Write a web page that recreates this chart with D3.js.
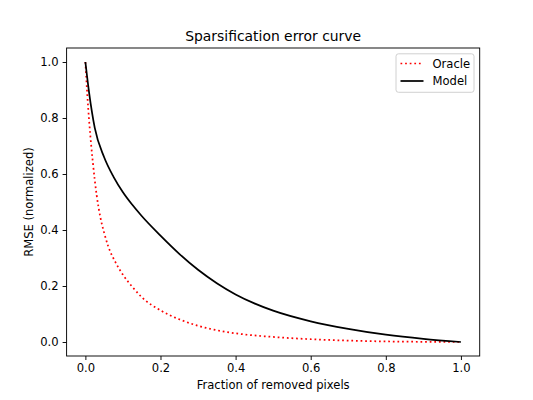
<!DOCTYPE html>
<html>
<head>
<meta charset="utf-8">
<script src="https://cdn.jsdelivr.net/npm/d3@7"></script>
<style>
  body { margin: 0; background: white; }
  text { font-family: "DejaVu Sans", sans-serif; fill: black; }
</style>
</head>
<body>
<div id="chart"></div>
<script>
// values
var oracle_x = [0, 0.005, 0.01, 0.02, 0.03, 0.04, 0.05, 0.06, 0.08, 0.1, 0.125, 0.15, 0.2, 0.25, 0.3, 0.35, 0.4, 0.5, 0.6, 0.7, 0.8, 0.9, 1.0];
var oracle_y = [1.0, 0.885, 0.79, 0.64, 0.525, 0.445, 0.39, 0.345, 0.285, 0.24, 0.197, 0.16, 0.113, 0.081, 0.058, 0.042, 0.031, 0.018, 0.01, 0.005, 0.002, 0.0007, 0.0];

var model_x = [0, 0.01, 0.025, 0.05, 0.075, 0.1, 0.125, 0.15, 0.2, 0.25, 0.3, 0.35, 0.4, 0.45, 0.5, 0.6, 0.7, 0.8, 0.9, 1.0];
var model_y = [1.0, 0.89, 0.765, 0.66, 0.59, 0.535, 0.49, 0.45, 0.38, 0.315, 0.258, 0.21, 0.17, 0.138, 0.112, 0.074, 0.047, 0.026, 0.011, 0.0];

var x_ticks = [0.0, 0.2, 0.4, 0.6, 0.8, 1.0];
var y_ticks = [0.0, 0.2, 0.4, 0.6, 0.8, 1.0];

var series_names = ["Oracle", "Model"];

var W = 533, H = 400;
// note: "top" is taken by window.top, so the plot box gets its own names
var ax_left = 66.6, ax_right = 479.7, ax_top = 48, ax_bottom = 356;
var fs = 11.57;

var svg = d3.select("#chart")
  .append("svg")
    .attr("width", W)
    .attr("height", H);

svg.append("rect")
  .attr("width", W)
  .attr("height", H)
  .attr("fill", "white");

var xs = d3.scaleLinear().domain([-0.05, 1.05]).range([ax_left, ax_right]);
var ys = d3.scaleLinear().domain([-0.05, 1.05]).range([ax_bottom, ax_top]);

// axes
var xAxis = d3.axisBottom(xs).tickValues(x_ticks).tickFormat(d3.format(".1f")).tickSize(4).tickPadding(4);
var yAxis = d3.axisLeft(ys).tickValues(y_ticks).tickFormat(d3.format(".1f")).tickSize(4).tickPadding(4);

var gx = svg.append("g").attr("transform", "translate(0," + ax_bottom + ")").call(xAxis);
var gy = svg.append("g").attr("transform", "translate(" + ax_left + ",0)").call(yAxis);

[gx, gy].forEach(function(g){
  g.select(".domain").remove();
  g.selectAll(".tick line").attr("stroke", "black").attr("stroke-width", 0.93);
  g.selectAll(".tick text")
    .style("font-family", "DejaVu Sans")
    .style("font-size", fs + "px")
    .attr("fill", "black");
});

// lines
var oracle_pts = oracle_x.map(function(d, i){ return [d, oracle_y[i]]; });
var model_pts = model_x.map(function(d, i){ return [d, model_y[i]]; });

var line = d3.line()
  .x(function(d){ return xs(d[0]); })
  .y(function(d){ return ys(d[1]); })
  .curve(d3.curveMonotoneX);

svg.append("path")
  .attr("d", line(oracle_pts))
  .attr("fill", "none")
  .attr("stroke", "red")
  .attr("stroke-width", 1.74)
  .attr("stroke-dasharray", "1.74,2.87");

svg.append("path")
  .attr("d", line(model_pts))
  .attr("fill", "none")
  .attr("stroke", "black")
  .attr("stroke-width", 1.74);

// frame
svg.append("rect")
  .attr("x", ax_left)
  .attr("y", ax_top)
  .attr("width", ax_right - ax_left)
  .attr("height", ax_bottom - ax_top)
  .attr("fill", "none")
  .attr("stroke", "black")
  .attr("stroke-width", 0.93);

// title + labels
svg.append("text")
  .attr("x", (ax_left + ax_right) / 2)
  .attr("y", 41)
  .attr("text-anchor", "middle")
  .style("font-size", "13.9px")
  .text("Sparsification error curve");

svg.append("text")
  .attr("x", (ax_left + ax_right) / 2)
  .attr("y", 389)
  .attr("text-anchor", "middle")
  .style("font-size", fs + "px")
  .text("Fraction of removed pixels");

svg.append("text")
  .attr("transform", "translate(33," + ((ax_top + ax_bottom) / 2) + ") rotate(-90)")
  .attr("text-anchor", "middle")
  .style("font-size", fs + "px")
  .text("RMSE (normalized)");

// legend
var lg = svg.append("g");
lg.append("rect")
  .attr("x", 396)
  .attr("y", 53.8)
  .attr("width", 78)
  .attr("height", 38.5)
  .attr("rx", 2.5)
  .attr("fill", "white")
  .attr("fill-opacity", 0.8)
  .attr("stroke", "#cccccc")
  .attr("stroke-width", 0.93);

var styles = [
  {stroke: "red", dash: "1.74,2.87"},
  {stroke: "black", dash: null}
];

for(var p = 0; p < series_names.length; p++)
{
  var yy = 63.5 + p * 17.5;
  lg.append("line")
    .attr("x1", 400.5)
    .attr("x2", 423.5)
    .attr("y1", yy)
    .attr("y2", yy)
    .attr("stroke", styles[p].stroke)
    .attr("stroke-width", 1.74)
    .attr("stroke-dasharray", styles[p].dash);
  lg.append("text")
    .attr("x", 432.5)
    .attr("y", yy + 4.2)
    .style("font-size", fs + "px")
    .text(series_names[p]);
}
</script>
</body>
</html>
